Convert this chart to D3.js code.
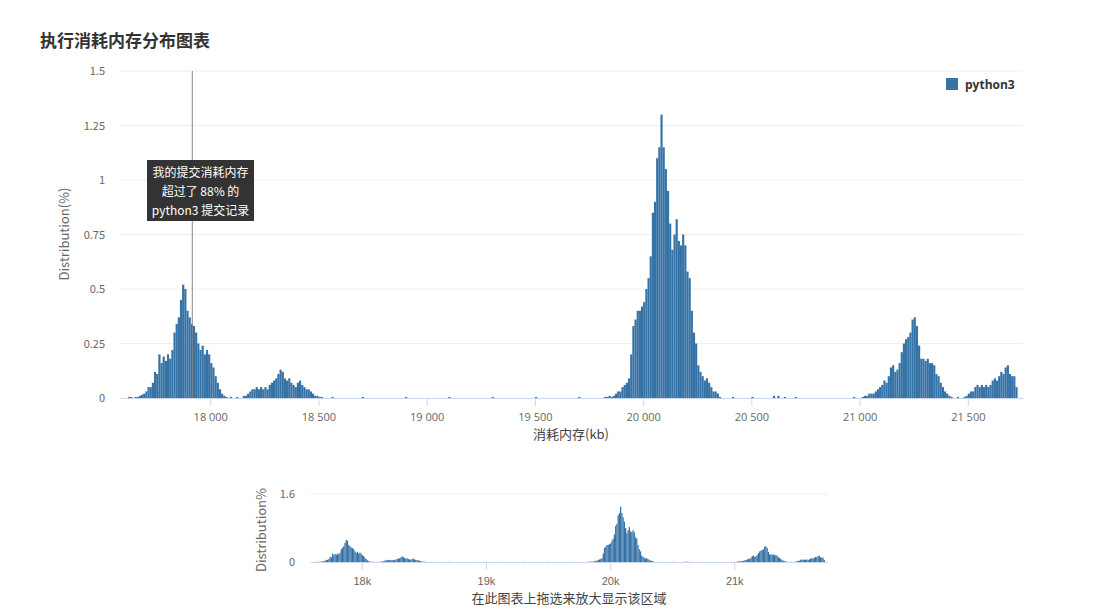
<!DOCTYPE html>
<html><head><meta charset="utf-8">
<script src="https://cdn.jsdelivr.net/npm/d3@7/dist/d3.min.js"></script>
<style>body{margin:0;background:#fff;font-family:"Noto Sans CJK SC","Open Sans",sans-serif}</style>
</head><body><svg id="c" width="1106" height="613"></svg>
<script>
const binWidth = 10;
const binStarts = [17620,17630,17650,17660,17670,17680,17690,17700,17710,17720,17730,17740,17750,17760,17770,17780,17790,17800,17810,17820,17830,17840,17850,17860,17870,17880,17890,17900,17910,17920,17930,17940,17950,17960,17970,17980,17990,18000,18010,18020,18030,18040,18050,18060,18070,18090,18120,
18150,18160,18170,18180,18190,18200,18210,18220,18230,18240,18250,18260,18270,18280,18290,18300,18310,18320,18330,18340,18350,18360,18370,18380,18390,18400,18410,18420,18430,18440,18450,18460,18470,18480,18490,18500,18510,18560,18700,18900,19100,19300,19500,19700,
19820,19830,19840,19850,19860,19870,19880,19890,19900,19910,19920,19930,19940,19950,19960,19970,19980,19990,20000,20010,20020,20030,20040,20050,20060,20070,20080,20090,20100,20110,20120,20130,20140,20150,20160,20170,20180,20190,20200,20210,20220,20230,20240,20250,20260,20270,20280,20290,20300,20310,20320,20330,20340,20350,20410,20500,20600,20620,20650,20700,
20970,21010,21020,21030,21040,21050,21060,21070,21080,21090,21100,21110,21120,21130,21140,21150,21160,21170,21180,21190,21200,21210,21220,21230,21240,21250,21260,21270,21280,21290,21300,21310,21320,21330,21340,21350,21360,21370,21380,21390,21400,21410,21420,21450,21480,21490,21500,21510,21520,21530,21540,21550,21560,21570,21580,21590,21600,21610,21620,21630,21640,21650,21660,21670,21680,21690,21700,21710,21720];
const binValues = [0.005,0.005,0.005,0.005,0.01,0.015,0.02,0.03,0.05,0.05,0.07,0.12,0.11,0.2,0.16,0.19,0.17,0.2,0.18,0.22,0.3,0.34,0.37,0.45,0.52,0.5,0.4,0.37,0.34,0.33,0.3,0.25,0.22,0.24,0.2,0.22,0.2,0.16,0.14,0.1,0.07,0.04,0.02,0.01,0.005,0.005,0.005,
0.01,0.01,0.02,0.03,0.04,0.04,0.05,0.04,0.05,0.04,0.05,0.04,0.06,0.07,0.08,0.09,0.11,0.13,0.12,0.09,0.08,0.09,0.07,0.06,0.05,0.07,0.08,0.06,0.05,0.04,0.04,0.03,0.02,0.01,0.01,0.005,0.005,0.005,0.005,0.005,0.005,0.005,0.005,0.005,
0.005,0.005,0.01,0.005,0.01,0.02,0.03,0.03,0.05,0.06,0.07,0.09,0.2,0.33,0.36,0.4,0.4,0.42,0.44,0.5,0.55,0.65,0.85,0.9,1.1,1.15,1.3,1.15,1.05,0.95,0.8,0.68,0.75,0.82,0.72,0.7,0.75,0.7,0.58,0.55,0.4,0.3,0.25,0.15,0.12,0.1,0.08,0.09,0.07,0.05,0.03,0.03,0.02,0.005,0.005,0.005,0.01,0.01,0.005,0.005,
0.005,0.005,0.01,0.01,0.02,0.02,0.02,0.03,0.04,0.05,0.06,0.08,0.07,0.1,0.14,0.15,0.12,0.13,0.16,0.21,0.25,0.27,0.28,0.3,0.36,0.37,0.33,0.24,0.18,0.18,0.17,0.18,0.16,0.16,0.15,0.11,0.1,0.07,0.05,0.03,0.02,0.01,0.005,0.005,0.005,0.01,0.02,0.03,0.03,0.05,0.06,0.05,0.06,0.05,0.06,0.05,0.06,0.08,0.09,0.08,0.1,0.12,0.11,0.14,0.15,0.11,0.1,0.1,0.05];
const yTicks = [0,0.25,0.5,0.75,1,1.25,1.5];
const xTicks = [18000,18500,19000,19500,20000,20500,21000,21500];
const navXTicks = [18000,19000,20000,21000];
const navYTicks = [0,1.6];
const myValue = 17917;
const tipLines = ["我的提交消耗内存","超过了 88% 的","python3 提交记录"];
const color = "#3572a5";
const data = binStarts.map((s,i)=>({s,v:binValues[i]}));

const svg = d3.select("#c");
const fmt = d=> d3.format(",")(d).replace(","," ");
const x = d3.scaleLinear().domain([17583,21755]).range([120,1023]);
const y = d3.scaleLinear().domain([0,1.5]).range([398,71]);

svg.append("text").attr("x",40).attr("y",47).attr("font-size",17).attr("font-weight","bold").attr("fill","#333").text("执行消耗内存分布图表");

const g = svg.append("g");
g.selectAll(".gl").data(yTicks.slice(1)).join("line").attr("x1",120).attr("x2",1023)
 .attr("y1",d=>y(d)).attr("y2",d=>y(d)).attr("stroke","#eee");
g.selectAll(".yl").data(yTicks).join("text").attr("x",105).attr("y",d=>y(d)+4).attr("text-anchor","end")
 .attr("font-size",11).attr("fill","#666").text(d=>d);
g.selectAll("rect").data(data).join("rect").attr("x",d=>x(d.s)).attr("width",d=>x(d.s+binWidth)-x(d.s))
 .attr("y",d=>y(d.v)).attr("height",d=>398-y(d.v)).attr("fill",color);
const xa = svg.append("g").attr("transform","translate(0,398)").call(d3.axisBottom(x).tickValues(xTicks).tickFormat(fmt).tickSize(8).tickSizeOuter(0));
xa.select(".domain").attr("stroke","#ccd6eb");
xa.selectAll(".tick line").attr("stroke","#ccd6eb");
xa.selectAll("text").attr("font-size",11).attr("fill","#666").attr("font-family","Open Sans,sans-serif").attr("dy","1.1em");
svg.append("text").attr("x",571).attr("y",439).attr("text-anchor","middle").attr("font-size",13).attr("fill","#444").text("消耗内存(kb)");
svg.append("text").attr("transform","translate(69,234) rotate(-90)").attr("text-anchor","middle").attr("font-size",13).attr("fill","#666").text("Distribution(%)");

svg.append("line").attr("x1",x(myValue)).attr("x2",x(myValue)).attr("y1",71).attr("y2",398).attr("stroke","#888");
svg.append("rect").attr("x",147).attr("y",160).attr("width",107).attr("height",61).attr("fill","#333");
tipLines.forEach((t,i)=>svg.append("text").attr("x",200.5).attr("y",177+i*19).attr("text-anchor","middle").attr("font-size",12).attr("fill","#fff").text(t));

svg.append("rect").attr("x",946).attr("y",78).attr("width",12).attr("height",12).attr("fill",color);
svg.append("text").attr("x",965).attr("y",89).attr("font-size",12).attr("font-weight","bold").attr("fill","#333").attr("font-family","Open Sans,sans-serif").text("python3");

// navigator
const nx = d3.scaleLinear().domain([17583,21755]).range([310,828]);
const ny = d3.scaleLinear().domain([0,1.6]).range([562,494]);
svg.append("line").attr("x1",310).attr("x2",828).attr("y1",ny(1.6)).attr("y2",ny(1.6)).attr("stroke","#eee");
svg.selectAll(".nyl").data(navYTicks).join("text").attr("x",295).attr("y",d=>ny(d)+4).attr("text-anchor","end").attr("font-size",11).attr("fill","#666").text(d=>d);
svg.append("g").selectAll("rect").data(data).join("rect").attr("x",d=>nx(d.s)).attr("width",d=>Math.max(1,nx(d.s+binWidth)-nx(d.s)))
 .attr("y",d=>ny(d.v)).attr("height",d=>562-ny(d.v)).attr("fill",color);
const na = svg.append("g").attr("transform","translate(0,562)").call(d3.axisBottom(nx).tickValues(navXTicks).tickFormat(d=>d/1000+"k").tickSize(8).tickSizeOuter(0));
na.select(".domain").attr("stroke","#ccd6eb");
na.selectAll(".tick line").attr("stroke","#ccd6eb");
na.selectAll("text").attr("font-size",11).attr("fill","#666").attr("dy","1.1em");
svg.append("text").attr("transform","translate(266,530) rotate(-90)").attr("text-anchor","middle").attr("font-size",13).attr("fill","#666").text("Distribution%");
svg.append("text").attr("x",569).attr("y",603).attr("text-anchor","middle").attr("font-size",13).attr("fill","#444").text("在此图表上拖选来放大显示该区域");
</script></body></html>
